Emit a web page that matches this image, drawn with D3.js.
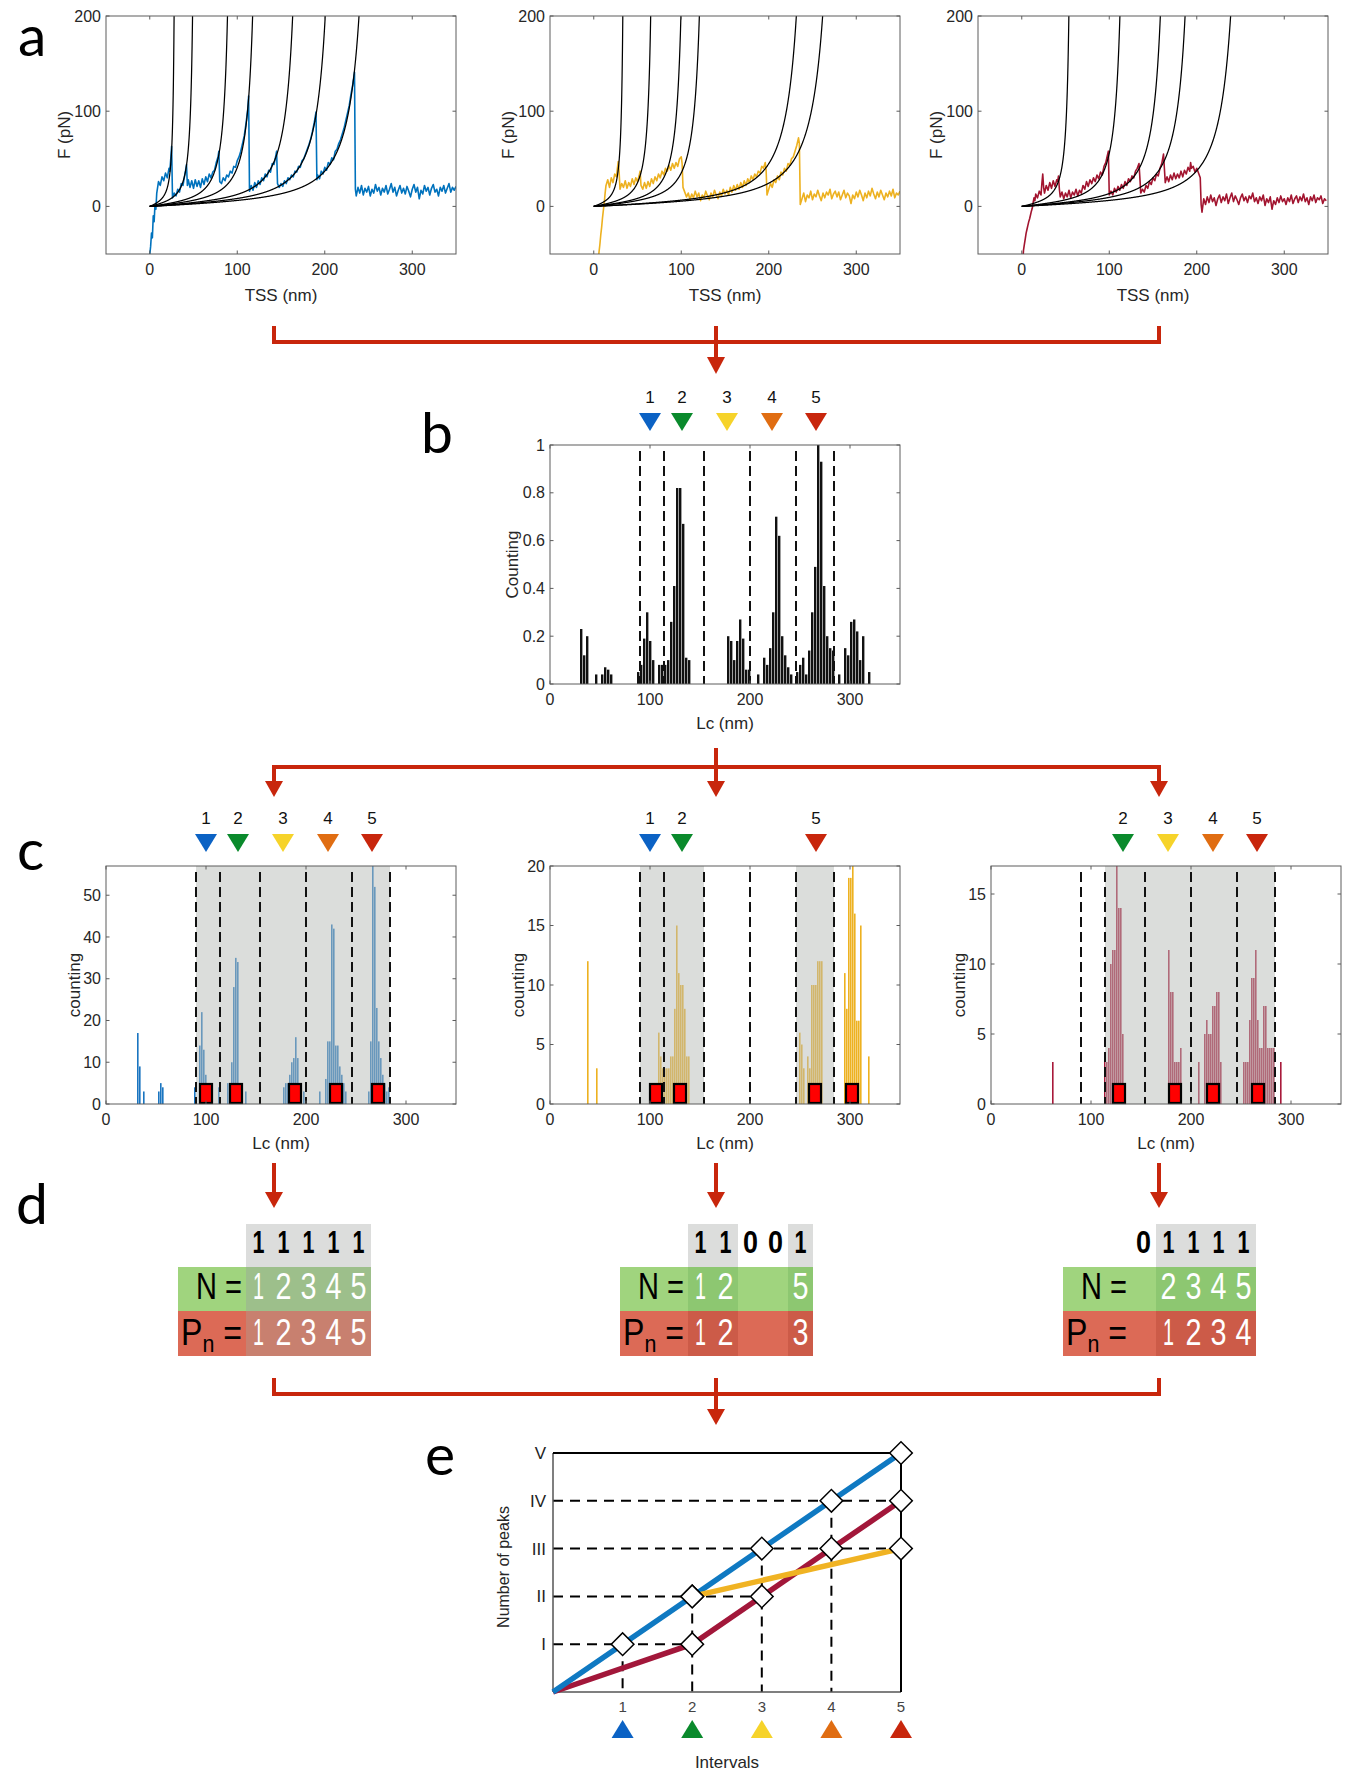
<!DOCTYPE html>
<html lang="en">
<head>
<meta charset="UTF-8">
<title>Unfolding peaks analysis</title>
<script src="https://cdnjs.cloudflare.com/ajax/libs/d3/7.8.5/d3.min.js"></script>
<style>
  body, html { margin: 0; padding: 0; background: #fff; }
  svg { display: block; font-family: "Liberation Sans", Arial, sans-serif; }
</style>
</head>
<body>
<div id="chart"></div>
<script>
// ---- panel a: force traces (TSS nm, F pN) ----
const traceBlue = [[-1,-60],[1,-42],[2,-28],[3,-33],[4,-10],[5,-16],[6,2],[7,-3],[8,14],[10,26],[12,22],[14,31],[16,27],[18,35],[20,30],[22,40],[23,37],[24,50],[25,63],
  [26,9],[28,14],[30,11],[32,18],[34,15],[36,24],[38,22],[40,33],[41,38],[42,44],
  [43,22],[44,28],[46,20],[48,27],[50,19],[52,28],[54,21],[56,27],[58,20],[60,29],[62,23],[64,31],[66,26],[68,34],[70,30],[72,36],[74,38],[76,46],[78,52],[79,58],
  [80,26],[82,24],[84,30],[86,27],[88,33],[90,31],[92,37],[94,35],[96,42],[98,41],[100,48],[102,52],[104,58],[106,66],[108,74],[110,87],[112,102],[113,116],
  [114,16],[116,22],[118,17],[120,25],[122,20],[124,27],[126,23],[128,30],[130,27],[132,34],[134,31],[136,38],[138,36],[140,45],[142,44],[144,53],[145,58],
  [146,24],[148,20],[150,24],[152,21],[154,27],[156,24],[158,30],[160,28],[162,33],[164,31],[166,37],[168,36],[170,42],[172,41],[174,48],[176,50],[178,55],[180,60],[182,65],[184,71],[186,79],[188,88],[190,99],
  [191,28],[192,33],[194,29],[196,37],[198,34],[200,41],[202,38],[204,46],[206,44],[208,51],[210,49],[212,58],[214,60],[216,66],[218,70],[220,76],[222,82],[224,90],[226,98],[228,106],[230,118],[232,128],[234,141],
  [235,18],[236,11],[238,20],[240,14],[242,22],[244,12],[246,19],[248,15],[250,21],[252,11],[254,18],[256,14],[258,23],[260,16],[262,20],[264,12],[266,19],[268,15],[270,22],[272,13],[274,18],[276,24],[278,15],[280,20],[282,11],[284,17],[286,22],[288,14],[290,19],[292,13],[294,21],[296,16],[298,10],[300,18],[302,23],[304,15],[306,20],[308,8],[310,17],[312,13],[314,22],[316,16],[318,20],[320,12],[322,19],[324,23],[326,15],[328,18],[330,11],[332,20],[334,16],[336,22],[338,14],[340,19],[342,24],[344,15],[346,20],[348,17],[350,21]];

const traceYellow = [[5,-60],[6,-48],[7,-40],[8,-30],[9,-22],[10,-12],[11,-4],[12,4],[13,14],[14,22],[16,28],[18,20],[20,30],[22,25],[24,34],[26,31],[27,40],[28,47],[29,36],
  [30,18],[32,24],[34,20],[36,27],[38,19],[40,25],[42,21],[44,29],[46,23],[48,30],[50,26],[52,33],[53,37],
  [54,22],[56,18],[58,25],[60,19],[62,26],[64,21],[66,29],[68,24],[70,31],[72,27],[74,34],[76,30],[78,37],[80,33],[82,40],[84,37],[86,43],[88,38],[90,45],[92,40],[94,46],[96,42],[98,50],[100,52],[101,45],
  [102,20],[104,15],[106,10],[108,14],[110,7],[112,13],[114,9],[116,16],[118,10],[120,14],[122,6],[124,12],[126,9],[128,16],[130,11],[132,7],[134,14],[136,10],[138,17],[140,12],[142,8],[144,15],[146,11],[148,18],[150,13],[152,17],[154,12],[156,20],[158,15],[160,22],[162,17],[164,23],[166,18],[168,25],[170,20],[172,27],[174,22],[176,29],[178,25],[180,32],[182,28],[184,34],[186,31],[188,37],[190,35],[192,42],[194,40],[196,46],[197,38],
  [198,12],[200,18],[202,24],[204,20],[206,28],[208,25],[210,32],[212,28],[214,36],[216,33],[218,40],[220,37],[222,45],[224,43],[226,50],[228,52],[230,58],[232,64],[234,72],[235,66],
  [236,2],[238,8],[240,14],[242,5],[244,12],[246,9],[248,16],[250,7],[252,13],[254,10],[256,17],[258,11],[260,6],[262,14],[264,9],[266,15],[268,12],[270,18],[272,8],[274,13],[276,16],[278,10],[280,15],[282,7],[284,12],[286,17],[288,9],[290,14],[292,11],[294,3],[296,12],[298,8],[300,15],[302,10],[304,17],[306,12],[308,6],[310,14],[312,9],[314,16],[316,11],[318,19],[320,13],[322,8],[324,15],[326,10],[328,17],[330,12],[332,7],[334,14],[336,10],[338,16],[340,11],[342,18],[344,9],[346,14],[348,12],[350,16]];

const traceRed = [[1,-60],[2,-46],[3,-40],[4,-34],[5,-28],[6,-24],[7,-20],[8,-16],[9,-13],[10,-9],[11,-5],[12,-2],[13,4],[14,9],[15,6],[16,13],[18,9],[20,16],[22,12],[23,24],[24,34],[25,20],[26,14],[28,22],[30,17],[32,25],[34,19],[36,27],[38,21],[40,28],[41,26],[42,32],
  [43,18],[44,10],[46,15],[48,8],[50,14],[52,10],[54,17],[56,9],[58,15],[60,12],[62,18],[64,11],[66,17],[68,14],[70,22],[72,18],[74,26],[76,21],[78,28],[80,24],[82,30],[84,26],[86,33],[88,29],[90,36],[92,33],[94,42],[96,46],[98,54],[99,58],
  [100,12],[102,16],[104,12],[106,19],[108,15],[110,21],[112,17],[114,23],[116,19],[118,26],[120,22],[122,29],[124,26],[126,32],[128,30],[130,37],[132,40],[134,45],[135,30],
  [136,14],[138,18],[140,15],[142,22],[144,19],[146,26],[148,23],[150,30],[152,27],[154,34],[156,32],[158,40],[160,45],[162,55],[163,40],
  [164,25],[166,31],[168,26],[170,33],[172,28],[174,35],[176,29],[178,34],[180,30],[182,37],[184,31],[186,38],[188,34],[190,41],[192,37],[193,46],[194,40],[196,42],[198,36],[200,40],[202,35],[204,30],
  [205,2],[206,-6],[208,8],[210,2],[212,10],[214,4],[216,12],[218,5],[220,9],[222,1],[224,8],[226,12],[228,4],[230,10],[232,6],[234,13],[236,3],[238,9],[240,14],[242,5],[244,11],[246,7],[248,2],[250,9],[252,13],[254,6],[256,10],[258,4],[260,11],[262,8],[264,14],[266,5],[268,9],[270,3],[272,10],[274,6],[276,12],[278,1],[280,8],[282,4],[284,10],[286,-3],[288,6],[290,2],[292,9],[294,4],[296,11],[298,5],[300,8],[302,2],[304,9],[306,5],[308,12],[310,3],[312,8],[314,11],[316,4],[318,10],[320,6],[322,13],[324,5],[326,9],[328,2],[330,10],[332,6],[334,12],[336,4],[338,9],[340,7],[342,11],[344,3],[346,8],[348,6]];

// worm-like-chain fits: contour lengths (nm)
const fitsBlue = [31, 54.5, 99, 131, 182, 223.5, 266.5];
const fitsYellow = [37, 72.5, 111, 134.5, 258, 291.5];
const fitsRed = [60, 125, 176.5, 208, 266];
const wlcKT = 4.1, wlcP = 0.5;

const tssTicks = [0, 100, 200, 300];
const forceTicks = [0, 100, 200];

// ---- panel b: normalised Lc histogram (3 nm bins) ----
const histB = [[30,0.23],[33,0.12],[36,0.20],[45,0.04],[51,0.04],[54,0.07],[57,0.06],[60,0.04],
  [87,0.05],[90,0.08],[93,0.19],[96,0.30],[99,0.18],[102,0.10],[108,0.08],[111,0.08],[114,0.08],[117,0.10],[120,0.26],[123,0.41],[126,0.82],[129,0.82],[132,0.67],[135,0.11],[138,0.10],
  [177,0.20],[180,0.18],[183,0.10],[186,0.18],[189,0.27],[192,0.19],[195,0.06],[198,0.06],[207,0.04],
  [213,0.11],[216,0.08],[219,0.15],[222,0.30],[225,0.70],[228,0.62],[231,0.20],[234,0.12],[237,0.07],[240,0.04],
  [246,0.05],[249,0.08],[252,0.11],[255,0.04],[258,0.14],[261,0.30],[264,0.49],[267,1.00],[270,0.93],[273,0.41],[276,0.20],[279,0.15],[282,0.14],
  [288,0.04],[294,0.15],[297,0.12],[300,0.26],[303,0.27],[306,0.22],[309,0.10],[312,0.20],[318,0.05]];
const binB = 3;
const countTicksB = [0, 0.2, 0.4, 0.6, 0.8, 1];
const lcTicks = [0, 100, 200, 300];

// intervals
const intervalEdges = [90, 114, 154, 200, 246, 284];
const intervalIds = [1, 2, 3, 4, 5];
const intervalCentres = [100, 132, 177, 222, 266];
const intervalColors = ["#0b62c4", "#0a8a2c", "#f6d32a", "#e06d12", "#c8260c"];

// ---- panel c: per-trace Lc histograms (2 nm bins) ----
const histC1 = [[31,17],[33,9],[37,3],[52,3],[54,5],[56,4],[88,4],[93,14],[95,22],[97,13],[99,7],[101,4],[112,4],
  [121,5],[123,5],[125,10],[127,28],[129,35],[131,34],[133,4],[139,3],
  [177,4],[179,5],[181,5],[183,7],[185,10],[187,11],[189,16],[191,11],[193,5],[197,3],
  [213,3],[219,6],[221,15],[223,15],[225,43],[227,42],[229,14],[231,14],[233,9],[235,7],[237,5],[239,3],
  [262,3],[264,15],[266,57],[268,52],[270,23],[272,15],[274,11],[276,7],[278,5],[280,3],[282,4]];
const histC2 = [[37,12],[46,3],[108,6],[110,4],[112,3],[114,3],[116,3],[118,3],[120,4],[122,4],[124,8],[126,15],[128,11],[130,10],[132,10],[134,8],[136,4],[138,4],
  [249,6],[251,5],[253,3],[257,4],[259,3],[261,10],[263,10],[265,10],[267,12],[269,12],[271,12],
  [294,11],[296,8],[298,19],[300,19],[302,20],[304,16],[306,7],[308,7],[310,15],[318,4]];
const histC3 = [[61,3],[113,3],[115,3],[117,4],[119,10],[121,11],[123,11],[125,17],[127,14],[129,14],[131,5],
  [177,11],[179,8],[181,8],[183,3],[185,3],[187,3],[189,4],
  [207,3],[213,5],[215,6],[217,5],[219,5],[221,7],[223,7],[225,8],[227,8],[229,3],
  [252,3],[254,3],[256,3],[258,6],[260,9],[262,9],[264,11],[266,6],[268,4],[270,4],[272,7],[274,7],[276,4],[278,4],[280,4],[282,4],[289,3]];
const binC = 2;
const countMaxC = [57, 20, 17];
const countTicksC = [[0, 10, 20, 30, 40, 50], [0, 5, 10, 15, 20], [0, 5, 10, 15]];
const intervalsC = [[1, 2, 3, 4, 5], [1, 2, 5], [2, 3, 4, 5]];
const peaksC = [[100, 130, 189, 230, 272], [106, 130, 265, 302], [128, 184, 222, 267]];

// ---- panel d: codes ----
const codeBits = [[1,1,1,1,1], [1,1,0,0,1], [0,1,1,1,1]];
const nValues = [[1,2,3,4,5], [1,2,null,null,5], [null,2,3,4,5]];
const pValues = [[1,2,3,4,5], [1,2,null,null,3], [null,1,2,3,4]];

// ---- panel e: number of peaks vs interval ----
const lineBlue = [[0,0],[1,1],[2,2],[3,3],[4,4],[5,5]];
const lineRed = [[0,0],[2,1],[3,2],[4,3],[5,4]];
const lineYellow = [[2,2],[5,3]];
const peakLabels = ["I", "II", "III", "IV", "V"];
const intervalTicks = [1, 2, 3, 4, 5];

const W = 1372, H = 1774;
const axisCol = "#5c5c5c", textCol = "#262626", arrowCol = "#c8260c";

const svg = d3.select("#chart").append("svg").attr("width", W).attr("height", H);

function matlabAxes(g, x, y, xTicks, yTicks, yFmt) {
  const [l, r] = x.range(), [b, t] = y.range(), tl = 3.5;
  g.append("rect").attr("x", l).attr("y", t).attr("width", r - l).attr("height", b - t)
    .attr("fill", "none").attr("stroke", axisCol).attr("stroke-width", 1);
  xTicks.forEach(v => {
    const px = x(v);
    g.append("line").attr("x1", px).attr("x2", px).attr("y1", b).attr("y2", b - tl).attr("stroke", axisCol);
    g.append("line").attr("x1", px).attr("x2", px).attr("y1", t).attr("y2", t + tl).attr("stroke", axisCol);
    g.append("text").attr("x", px).attr("y", b + 21).attr("text-anchor", "middle")
      .attr("font-size", 16).attr("fill", textCol).text(v);
  });
  yTicks.forEach(v => {
    const py = y(v);
    g.append("line").attr("x1", l).attr("x2", l + tl).attr("y1", py).attr("y2", py).attr("stroke", axisCol);
    g.append("line").attr("x1", r).attr("x2", r - tl).attr("y1", py).attr("y2", py).attr("stroke", axisCol);
    g.append("text").attr("x", l - 5).attr("y", py).attr("dy", "0.35em").attr("text-anchor", "end")
      .attr("font-size", 16).attr("fill", textCol).text(yFmt ? yFmt(v) : v);
  });
}

function axisTitles(g, x, y, xTitle, yTitle, xOff, yOff) {
  const [l, r] = x.range(), [b, t] = y.range();
  g.append("text").attr("x", (l + r) / 2).attr("y", b + xOff).attr("text-anchor", "middle")
    .attr("font-size", 17).attr("fill", textCol).text(xTitle);
  g.append("text").attr("transform", `translate(${l - yOff},${(b + t) / 2}) rotate(-90)`)
    .attr("dy", "0.35em").attr("text-anchor", "middle")
    .attr("font-size", 17).attr("fill", textCol).text(yTitle);
}

function panelLetter(ch, x, y) {
  svg.append("text").attr("x", x).attr("y", y).attr("font-family", "Lato, 'Open Sans', sans-serif")
    .attr("font-size", 57).attr("fill", "#000").text(ch);
}

function wlc(ext, L) {
  const r = ext / L;
  return (wlcKT / wlcP) * (0.25 / ((1 - r) * (1 - r)) - 0.25 + r);
}

// ---------- panel a ----------
const aPanels = [
  { trace: traceBlue, fits: fitsBlue, color: "#0072bd", left: 106 },
  { trace: traceYellow, fits: fitsYellow, color: "#edb120", left: 550 },
  { trace: traceRed, fits: fitsRed, color: "#a2142f", left: 978 }
];
aPanels.forEach((p, i) => {
  const x = d3.scaleLinear().domain([-50, 350]).range([p.left, p.left + 350]);
  const y = d3.scaleLinear().domain([-50, 200]).range([254, 16]);
  const g = svg.append("g");
  g.append("clipPath").attr("id", "clipA" + i).append("rect")
    .attr("x", p.left).attr("y", 16).attr("width", 350).attr("height", 238);
  const plot = g.append("g").attr("clip-path", `url(#clipA${i})`);
  const line = d3.line().x(d => x(d[0])).y(d => y(d[1]));
  plot.append("path").datum(p.trace).attr("d", line).attr("fill", "none")
    .attr("stroke", p.color).attr("stroke-width", 1.6).attr("stroke-linejoin", "round");
  p.fits.forEach(L => {
    const pts = d3.range(0, L * 0.93, 0.2).map(v => [v, wlc(v, L)]);
    plot.append("path").datum(pts).attr("d", line).attr("fill", "none")
      .attr("stroke", "#000").attr("stroke-width", 1.25);
  });
  matlabAxes(g, x, y, tssTicks, forceTicks);
  axisTitles(g, x, y, "TSS (nm)", "F (pN)", 47, 42);
});
panelLetter("a", 18, 56);

// ---------- interval markers ----------
function markers(g, x, top, ids) {
  ids.forEach(id => {
    const k = id - 1, cx = x(intervalCentres[k]);
    g.append("text").attr("x", cx).attr("y", top - 42).attr("text-anchor", "middle")
      .attr("font-size", 17).attr("fill", "#111").text(id);
    g.append("path").attr("d", `M${cx - 11},${top - 32}L${cx + 11},${top - 32}L${cx},${top - 14}Z`)
      .attr("fill", intervalColors[k]);
  });
}

function dashedEdges(g, x, top, bottom, edges) {
  edges.forEach(e => {
    g.append("line").attr("x1", x(e)).attr("x2", x(e)).attr("y1", top + 6).attr("y2", bottom)
      .attr("stroke", "#111").attr("stroke-width", 2).attr("stroke-dasharray", "10,5");
  });
}

// ---------- panel b ----------
{
  const x = d3.scaleLinear().domain([0, 350]).range([550, 900]);
  const y = d3.scaleLinear().domain([0, 1]).range([684, 445]);
  const g = svg.append("g");
  g.selectAll("rect.bar").data(histB).join("rect").attr("class", "bar")
    .attr("x", d => x(d[0])).attr("width", d => x(d[0] + binB) - x(d[0]) - 0.6)
    .attr("y", d => y(d[1])).attr("height", d => y(0) - y(d[1])).attr("fill", "#111");
  dashedEdges(g, x, 445, 684, intervalEdges);
  matlabAxes(g, x, y, lcTicks, countTicksB, d3.format("~g"));
  axisTitles(g, x, y, "Lc (nm)", "Counting", 45, 38);
  markers(g, x, 445, intervalIds);
}
panelLetter("b", 421, 453);

// ---------- panel c ----------
const cPanels = [
  { hist: histC1, color: "#1a75c0", left: 106 },
  { hist: histC2, color: "#edb120", left: 550 },
  { hist: histC3, color: "#a8193a", left: 991 }
];
cPanels.forEach((p, i) => {
  const x = d3.scaleLinear().domain([0, 350]).range([p.left, p.left + 350]);
  const y = d3.scaleLinear().domain([0, countMaxC[i]]).range([1104, 866]);
  const g = svg.append("g");
  g.selectAll("rect.bar").data(p.hist).join("rect").attr("class", "bar")
    .attr("x", d => x(d[0])).attr("width", d => x(d[0] + binC) - x(d[0]) - 0.4)
    .attr("y", d => y(d[1])).attr("height", d => y(0) - y(d[1])).attr("fill", p.color);
  intervalsC[i].forEach(id => {
    const a = intervalEdges[id - 1], b = intervalEdges[id];
    g.append("rect").attr("x", x(a)).attr("width", x(b) - x(a)).attr("y", 866).attr("height", 238)
      .attr("fill", "#b8bbb8").attr("opacity", 0.5);
  });
  dashedEdges(g, x, 866, 1104, intervalEdges);
  peaksC[i].forEach(pk => {
    g.append("rect").attr("x", x(pk) - 6).attr("width", 12).attr("y", y(0) - 20).attr("height", 19)
      .attr("fill", "#ff0000").attr("stroke", "#000").attr("stroke-width", 2.2);
  });
  matlabAxes(g, x, y, lcTicks, countTicksC[i]);
  axisTitles(g, x, y, "Lc (nm)", "counting", 45, 32);
  markers(g, x, 866, intervalsC[i]);
});
panelLetter("c", 17, 870);

// ---------- connectors ----------
const arrowXs = [274, 716, 1159];
function head(x, y0, y1) {
  svg.append("path").attr("d", `M${x - 9},${y0}L${x + 9},${y0}L${x},${y1}Z`).attr("fill", arrowCol);
}
function vline(x, y0, y1) {
  svg.append("line").attr("x1", x).attr("x2", x).attr("y1", y0).attr("y2", y1)
    .attr("stroke", arrowCol).attr("stroke-width", 4);
}
function hline(y) {
  svg.append("line").attr("x1", arrowXs[0] - 2).attr("x2", arrowXs[2] + 2).attr("y1", y).attr("y2", y)
    .attr("stroke", arrowCol).attr("stroke-width", 4);
}
function merge(yTop, yLine, yHead, yTip) {
  vline(arrowXs[0], yTop, yLine + 2);
  vline(arrowXs[2], yTop, yLine + 2);
  hline(yLine);
  vline(arrowXs[1], yTop, yHead + 1);
  head(arrowXs[1], yHead, yTip);
}
function split(yTop, yLine, yHead, yTip) {
  vline(arrowXs[1], yTop, yLine);
  hline(yLine);
  arrowXs.forEach(ax => { vline(ax, yLine - 2, yHead + 1); head(ax, yHead, yTip); });
}
merge(326, 342, 357, 374);
split(748, 767, 781, 797);
arrowXs.forEach(ax => { vline(ax, 1163, 1193); head(ax, 1192, 1208); });
merge(1378, 1394, 1409, 1425);

// ---------- panel d ----------
const tintN = ["#9dbf8b", "#8dc771", "#8dc771"];
const tintP = ["#c8806f", "#cc5b48", "#cc5b48"];
function narrow(sel, len) {
  return sel.attr("textLength", len).attr("lengthAdjust", "spacingAndGlyphs");
}
codeBits.forEach((bits, t) => {
  const left = arrowXs[t] - 96, labelW = 68, colW = 25;
  const hTop = 1224, nTop = 1267, pTop = 1311, pBot = 1356;
  const g = svg.append("g");
  g.append("rect").attr("x", left).attr("y", nTop).attr("width", labelW + 5 * colW).attr("height", pTop - nTop).attr("fill", "#a0d47e");
  g.append("rect").attr("x", left).attr("y", pTop).attr("width", labelW + 5 * colW).attr("height", pBot - pTop).attr("fill", "#dc6a56");
  bits.forEach((b, j) => {
    const cx = left + labelW + j * colW;
    if (b || t === 0) {
      g.append("rect").attr("x", cx).attr("y", nTop).attr("width", colW).attr("height", pTop - nTop).attr("fill", tintN[t]);
      g.append("rect").attr("x", cx).attr("y", pTop).attr("width", colW).attr("height", pBot - pTop).attr("fill", tintP[t]);
    }
    if (b) g.append("rect").attr("x", cx).attr("y", hTop).attr("width", colW).attr("height", nTop - hTop).attr("fill", "#dcdddc");
    narrow(g.append("text").attr("x", cx + colW / 2).attr("y", 1253).attr("text-anchor", "middle")
      .attr("font-size", 31).attr("font-weight", "bold").attr("fill", "#000").text(b), b ? 12 : 15);
    if (nValues[t][j] !== null)
      narrow(g.append("text").attr("x", cx + colW / 2).attr("y", 1299).attr("text-anchor", "middle")
        .attr("font-size", 36).attr("fill", "#fff").text(nValues[t][j]), nValues[t][j] === 1 ? 11 : 16);
    if (pValues[t][j] !== null)
      narrow(g.append("text").attr("x", cx + colW / 2).attr("y", 1345).attr("text-anchor", "middle")
        .attr("font-size", 36).attr("fill", "#fff").text(pValues[t][j]), pValues[t][j] === 1 ? 11 : 16);
  });
  const lx = left + labelW - 4;
  narrow(g.append("text").attr("x", lx).attr("y", 1299).attr("text-anchor", "end")
    .attr("font-size", 36).attr("fill", "#000").text("N ="), 46);
  const pt = g.append("text").attr("x", lx).attr("y", 1345).attr("text-anchor", "end")
    .attr("font-size", 36).attr("fill", "#000");
  pt.append("tspan").text("P");
  pt.append("tspan").attr("font-size", 24).attr("dy", 7).text("n");
  pt.append("tspan").attr("dy", -7).text(" =");
  narrow(pt, 61);
});
panelLetter("d", 16, 1224);

// ---------- panel e ----------
{
  const x = d3.scaleLinear().domain([0, 5]).range([553, 901]);
  const y = d3.scaleLinear().domain([0, 5]).range([1692, 1453]);
  const g = svg.append("g");
  const allPts = lineBlue.concat(lineRed, lineYellow).filter(d => d[0] > 0);
  const dash = { stroke: "#000", "stroke-width": 2, "stroke-dasharray": "10,7" };
  peakLabels.slice(0, 4).forEach((lab, k) => {
    const lvl = k + 1;
    const xm = d3.max(allPts.filter(d => d[1] === lvl), d => d[0]);
    const ln = g.append("line").attr("x1", x(0)).attr("x2", x(xm)).attr("y1", y(lvl)).attr("y2", y(lvl));
    Object.entries(dash).forEach(([a, v]) => ln.attr(a, v));
  });
  intervalTicks.slice(0, 4).forEach(t => {
    const ym = d3.max(allPts.filter(d => d[0] === t), d => d[1]);
    const ln = g.append("line").attr("x1", x(t)).attr("x2", x(t)).attr("y1", y(ym)).attr("y2", y(0));
    Object.entries(dash).forEach(([a, v]) => ln.attr(a, v));
  });
  g.append("line").attr("x1", x(0)).attr("x2", x(0)).attr("y1", y(0)).attr("y2", y(5)).attr("stroke", "#555").attr("stroke-width", 1.5);
  g.append("line").attr("x1", x(0)).attr("x2", x(5)).attr("y1", y(0)).attr("y2", y(0)).attr("stroke", "#555").attr("stroke-width", 1.5);
  g.append("line").attr("x1", x(0)).attr("x2", x(5)).attr("y1", y(5)).attr("y2", y(5)).attr("stroke", "#000").attr("stroke-width", 2);
  g.append("line").attr("x1", x(5)).attr("x2", x(5)).attr("y1", y(0)).attr("y2", y(5)).attr("stroke", "#000").attr("stroke-width", 2);

  const line = d3.line().x(d => x(d[0])).y(d => y(d[1]));
  [[lineRed, "#a2173a"], [lineBlue, "#0f79c2"], [lineYellow, "#f0b323"]].forEach(([pts, c]) => {
    g.append("path").datum(pts).attr("d", line).attr("fill", "none").attr("stroke", c).attr("stroke-width", 5.5);
  });
  allPts.forEach(d => {
    g.append("rect").attr("x", -8).attr("y", -8).attr("width", 16).attr("height", 16)
      .attr("transform", `translate(${x(d[0])},${y(d[1])}) rotate(45)`)
      .attr("fill", "#fff").attr("stroke", "#000").attr("stroke-width", 1.5);
  });
  peakLabels.forEach((lab, k) => {
    g.append("text").attr("x", 546).attr("y", y(k + 1)).attr("dy", "0.35em").attr("text-anchor", "end")
      .attr("font-size", 17).attr("fill", "#222").text(lab);
  });
  intervalTicks.forEach((t, k) => {
    const cx = x(t);
    g.append("text").attr("x", cx).attr("y", 1712).attr("text-anchor", "middle")
      .attr("font-size", 15).attr("fill", "#444").text(t);
    g.append("path").attr("d", `M${cx - 11},1738L${cx + 11},1738L${cx},1720Z`).attr("fill", intervalColors[k]);
  });
  g.append("text").attr("x", 727).attr("y", 1768).attr("text-anchor", "middle")
    .attr("font-size", 17).attr("fill", textCol).text("Intervals");
  g.append("text").attr("transform", `translate(503,1567) rotate(-90)`).attr("dy", "0.35em")
    .attr("text-anchor", "middle").attr("font-size", 16).attr("fill", textCol).text("Number of peaks");
}
panelLetter("e", 425, 1475);
</script>
</body>
</html>
